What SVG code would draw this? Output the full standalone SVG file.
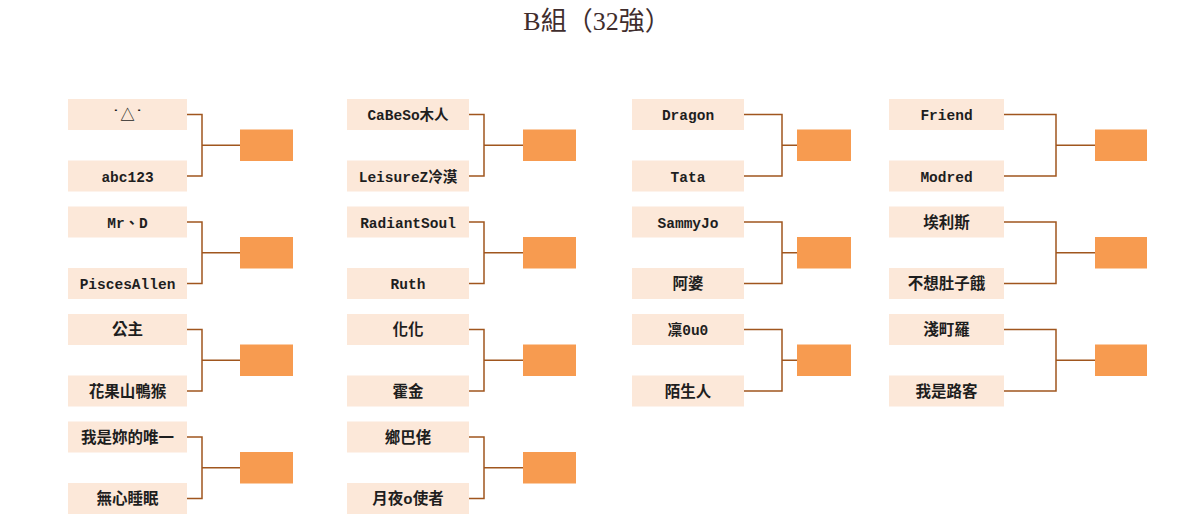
<svg xmlns="http://www.w3.org/2000/svg" width="1200" height="515" viewBox="0 0 1200 515">
<style>
.bg{fill:#ffffff}
.p{fill:#FCE8D9}
.w{fill:#F79B50}
.t{font-family:"Liberation Mono","Noto Sans CJK TC",monospace;font-size:14.5px;font-weight:bold;fill:#1e1e1e;text-anchor:middle}
.k{font-size:15.5px}
.c{fill:none;stroke:#A0561E;stroke-width:1.5}
.title{font-family:"Liberation Serif","Noto Sans CJK TC",serif;font-size:26px;fill:#3f2d2d;text-anchor:middle}
</style>
<rect class="bg" x="0" y="0" width="1200" height="515"/>
<text class="title" x="597" y="30">B組（32強）</text>

<g id="connectors">
<path class="c" d="M187,114.5H202V176H187M202,145.25H240"/>
<path class="c" d="M187,222H202V283.5H187M202,252.75H240"/>
<path class="c" d="M187,329.5H202V391H187M202,360.25H240"/>
<path class="c" d="M187,437H202V498.5H187M202,467.75H240"/>
<path class="c" d="M469,114.5H484V176H469M484,145.25H523"/>
<path class="c" d="M469,222H484V283.5H469M484,252.75H523"/>
<path class="c" d="M469,329.5H484V391H469M484,360.25H523"/>
<path class="c" d="M469,437H484V498.5H469M484,467.75H523"/>
<path class="c" d="M744,114.5H782V176H744M782,145.25H797"/>
<path class="c" d="M744,222H782V283.5H744M782,252.75H797"/>
<path class="c" d="M744,329.5H782V391H744M782,360.25H797"/>
<path class="c" d="M1004,114.5H1056V176H1004M1056,145.25H1095"/>
<path class="c" d="M1004,222H1056V283.5H1004M1056,252.75H1095"/>
<path class="c" d="M1004,329.5H1056V391H1004M1056,360.25H1095"/>
</g>

<!-- Column 1 -->
<g id="c1m1a"><rect class="p" x="68" y="99" width="119" height="31"/><text class="t" x="127.5" y="120">˙△˙</text></g>
<g id="c1m1b"><rect class="p" x="68" y="160.5" width="119" height="31"/><text class="t" x="127.5" y="181.5">abc123</text></g>
<g id="c1m1w"><rect class="w" x="240" y="129.5" width="53" height="31.5"/></g>
<g id="c1m2a"><rect class="p" x="68" y="206.5" width="119" height="31"/><text class="t" x="127.5" y="227.5">Mr、D</text></g>
<g id="c1m2b"><rect class="p" x="68" y="268" width="119" height="31"/><text class="t" x="127.5" y="289">PiscesAllen</text></g>
<g id="c1m2w"><rect class="w" x="240" y="237" width="53" height="31.5"/></g>
<g id="c1m3a"><rect class="p" x="68" y="314" width="119" height="31"/><text class="t k" x="127.5" y="335">公主</text></g>
<g id="c1m3b"><rect class="p" x="68" y="375.5" width="119" height="31"/><text class="t k" x="127.5" y="396.5">花果山鴨猴</text></g>
<g id="c1m3w"><rect class="w" x="240" y="344.5" width="53" height="31.5"/></g>
<g id="c1m4a"><rect class="p" x="68" y="421.5" width="119" height="31"/><text class="t k" x="127.5" y="442.5">我是妳的唯一</text></g>
<g id="c1m4b"><rect class="p" x="68" y="483" width="119" height="31"/><text class="t k" x="127.5" y="504">無心睡眠</text></g>
<g id="c1m4w"><rect class="w" x="240" y="452" width="53" height="31.5"/></g>

<!-- Column 2 -->
<g id="c2m1a"><rect class="p" x="347" y="99" width="122" height="31"/><text class="t" x="408" y="120">CaBeSo木人</text></g>
<g id="c2m1b"><rect class="p" x="347" y="160.5" width="122" height="31"/><text class="t" x="408" y="181.5">LeisureZ冷漠</text></g>
<g id="c2m1w"><rect class="w" x="523" y="129.5" width="53" height="31.5"/></g>
<g id="c2m2a"><rect class="p" x="347" y="206.5" width="122" height="31"/><text class="t" x="408" y="227.5">RadiantSoul</text></g>
<g id="c2m2b"><rect class="p" x="347" y="268" width="122" height="31"/><text class="t" x="408" y="289">Ruth</text></g>
<g id="c2m2w"><rect class="w" x="523" y="237" width="53" height="31.5"/></g>
<g id="c2m3a"><rect class="p" x="347" y="314" width="122" height="31"/><text class="t k" x="408" y="335">化化</text></g>
<g id="c2m3b"><rect class="p" x="347" y="375.5" width="122" height="31"/><text class="t k" x="408" y="396.5">霍金</text></g>
<g id="c2m3w"><rect class="w" x="523" y="344.5" width="53" height="31.5"/></g>
<g id="c2m4a"><rect class="p" x="347" y="421.5" width="122" height="31"/><text class="t k" x="408" y="442.5">鄉巴佬</text></g>
<g id="c2m4b"><rect class="p" x="347" y="483" width="122" height="31"/><text class="t k" x="408" y="504">月夜o使者</text></g>
<g id="c2m4w"><rect class="w" x="523" y="452" width="53" height="31.5"/></g>

<!-- Column 3 -->
<g id="c3m1a"><rect class="p" x="632" y="99" width="112" height="31"/><text class="t" x="688" y="120">Dragon</text></g>
<g id="c3m1b"><rect class="p" x="632" y="160.5" width="112" height="31"/><text class="t" x="688" y="181.5">Tata</text></g>
<g id="c3m1w"><rect class="w" x="797" y="129.5" width="54" height="31.5"/></g>
<g id="c3m2a"><rect class="p" x="632" y="206.5" width="112" height="31"/><text class="t" x="688" y="227.5">SammyJo</text></g>
<g id="c3m2b"><rect class="p" x="632" y="268" width="112" height="31"/><text class="t k" x="688" y="289">阿婆</text></g>
<g id="c3m2w"><rect class="w" x="797" y="237" width="54" height="31.5"/></g>
<g id="c3m3a"><rect class="p" x="632" y="314" width="112" height="31"/><text class="t" x="688" y="335">凜0u0</text></g>
<g id="c3m3b"><rect class="p" x="632" y="375.5" width="112" height="31"/><text class="t k" x="688" y="396.5">陌生人</text></g>
<g id="c3m3w"><rect class="w" x="797" y="344.5" width="54" height="31.5"/></g>

<!-- Column 4 -->
<g id="c4m1a"><rect class="p" x="889" y="99" width="115" height="31"/><text class="t" x="946.5" y="120">Friend</text></g>
<g id="c4m1b"><rect class="p" x="889" y="160.5" width="115" height="31"/><text class="t" x="946.5" y="181.5">Modred</text></g>
<g id="c4m1w"><rect class="w" x="1095" y="129.5" width="52" height="31.5"/></g>
<g id="c4m2a"><rect class="p" x="889" y="206.5" width="115" height="31"/><text class="t k" x="946.5" y="227.5">埃利斯</text></g>
<g id="c4m2b"><rect class="p" x="889" y="268" width="115" height="31"/><text class="t k" x="946.5" y="289">不想肚子餓</text></g>
<g id="c4m2w"><rect class="w" x="1095" y="237" width="52" height="31.5"/></g>
<g id="c4m3a"><rect class="p" x="889" y="314" width="115" height="31"/><text class="t k" x="946.5" y="335">淺町羅</text></g>
<g id="c4m3b"><rect class="p" x="889" y="375.5" width="115" height="31"/><text class="t k" x="946.5" y="396.5">我是路客</text></g>
<g id="c4m3w"><rect class="w" x="1095" y="344.5" width="52" height="31.5"/></g>
</svg>
